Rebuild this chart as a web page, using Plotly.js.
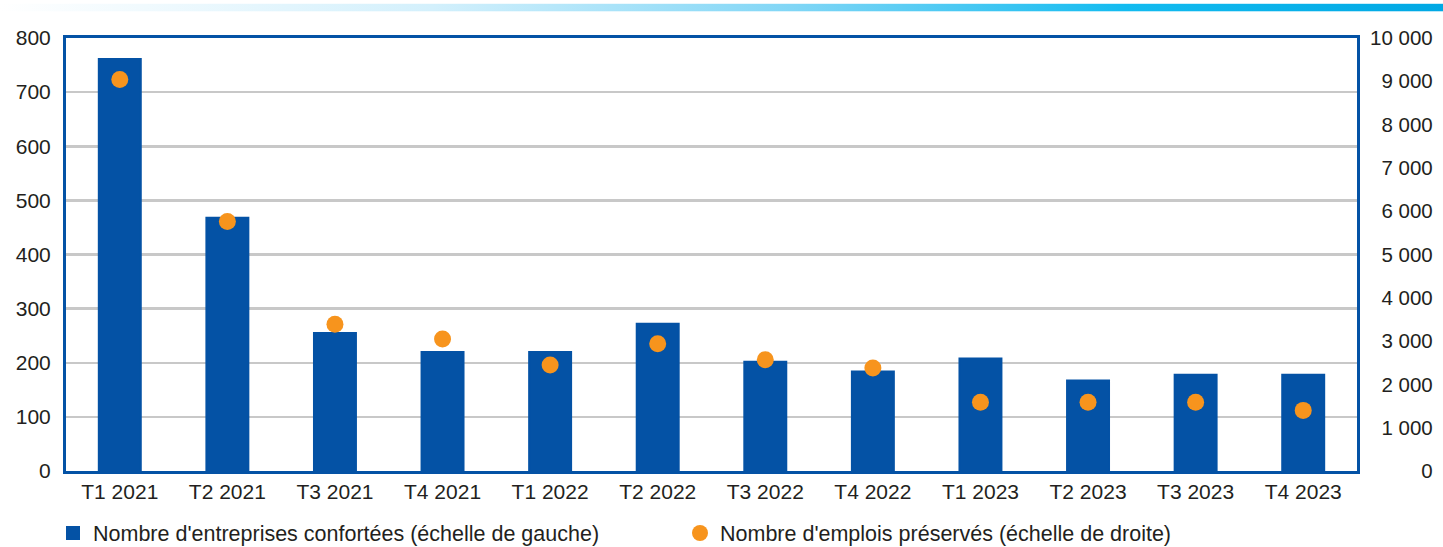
<!DOCTYPE html>
<html>
<head>
<meta charset="utf-8">
<script src="https://cdn.plot.ly/plotly-3.0.1.min.js"></script>
<style>
  html, body { margin: 0; padding: 0; background: #fff; }
  #chart { width: 1443px; height: 547px; }
</style>
</head>
<body>
<div id="chart"></div>
<script>
// ---- Data ----
var categories = ['T1 2021', 'T2 2021', 'T3 2021', 'T4 2021',
                  'T1 2022', 'T2 2022', 'T3 2022', 'T4 2022',
                  'T1 2023', 'T2 2023', 'T3 2023', 'T4 2023'];
var entreprises = [761, 468, 255, 220, 220, 272, 202, 184, 208, 167, 178, 178];
var emplois = [9040, 5760, 3390, 3050, 2450, 2940, 2570, 2380, 1590, 1590, 1590, 1400];
var leftTicks = [0, 100, 200, 300, 400, 500, 600, 700, 800];
var rightTicks = [0, 1000, 2000, 3000, 4000, 5000, 6000, 7000, 8000, 9000, 10000];
var seriesNames = ["Nombre d'entreprises confortées (échelle de gauche)",
                   "Nombre d'emplois préservés (échelle de droite)"];

// right-aligned right-axis labels with space thousands separator
function fmtThousands(v) {
  var s = String(v);
  var out = '';
  while (s.length > 3) { out = '\u00A0' + s.slice(-3) + out; s = s.slice(0, -3); }
  return s + out;
}
var maxLabel = fmtThousands(Math.max.apply(null, rightTicks));
var rightText = rightTicks.map(function (v) {
  var t = fmtThousands(v);
  var pad = '';
  for (var i = t.length; i < maxLabel.length; i++) {
    var ch = maxLabel.charAt(maxLabel.length - 1 - i);
    pad += (ch === '\u00A0') ? '\u00A0' : '\u2007';
  }
  return pad + t;
});

var FONT = 'Liberation Sans, Arial, sans-serif';
var BLUE = '#0452a5';
var ORANGE = '#f7941d';
var TXT = '#231f20';

var gradSvg = '<svg xmlns="http://www.w3.org/2000/svg" width="1443" height="8" preserveAspectRatio="none">' +
  '<defs><linearGradient id="g" x1="0" y1="0" x2="1" y2="0">' +
  '<stop offset="0" stop-color="#ffffff"/>' +
  '<stop offset="0.3" stop-color="#d3f0fc"/>' +
  '<stop offset="0.55" stop-color="#80d6f6"/>' +
  '<stop offset="0.78" stop-color="#12bbf0"/>' +
  '<stop offset="1" stop-color="#00a8e4"/>' +
  '</linearGradient></defs><rect x="0" y="0" width="1443" height="8" fill="url(#g)"/></svg>';

var plotL = 66, plotR = 1357, plotT = 37.5, plotB = 471.5;
var pw = plotR - plotL, ph = plotB - plotT;

var traces = [
  {
    type: 'bar',
    x: categories,
    y: entreprises,
    name: seriesNames[0],
    width: 0.39,
    marker: { color: BLUE, line: { color: BLUE, width: 2 } },
    yaxis: 'y',
    hoverinfo: 'x+y'
  },
  {
    type: 'scatter',
    mode: 'markers',
    x: categories,
    y: emplois,
    name: seriesNames[1],
    marker: { color: ORANGE, size: 17 },
    yaxis: 'y2',
    hoverinfo: 'x+y'
  }
];

var layout = {
  width: 1443,
  height: 547,
  margin: { l: plotL, r: 1443 - plotR, t: plotT, b: 547 - plotB, pad: 0, autoexpand: false },
  paper_bgcolor: '#ffffff',
  plot_bgcolor: '#ffffff',
  font: { family: FONT, size: 21, color: TXT },
  showlegend: true,
  legend: {
    orientation: 'h',
    xref: 'container',
    yref: 'container',
    x: 53 / 1443,
    xanchor: 'left',
    y: (547 - 533) / 547,
    yanchor: 'middle',
    font: { family: FONT, size: 21.5, color: TXT },
    entrywidth: 582,
    entrywidthmode: 'pixels',
    bgcolor: 'rgba(0,0,0,0)'
  },
  xaxis: {
    type: 'category',
    range: [-0.5, categories.length - 0.5],
    automargin: false,
    showline: true,
    linecolor: BLUE,
    linewidth: 3,
    mirror: true,
    showgrid: false,
    zeroline: false,
    ticks: '',
    ticklabelstandoff: 0,
    tickfont: { family: FONT, size: 21, color: TXT },
    fixedrange: true
  },
  yaxis: {
    range: [0, 800],
    tickvals: leftTicks,
    automargin: false,
    showline: true,
    linecolor: BLUE,
    linewidth: 3,
    mirror: true,
    showgrid: true,
    gridcolor: '#c8c8c8',
    gridwidth: 2.5,
    zeroline: false,
    ticks: '',
    ticklabelstandoff: 8,
    tickfont: { family: FONT, size: 21, color: TXT },
    fixedrange: true
  },
  yaxis2: {
    overlaying: 'y',
    side: 'right',
    range: [0, 10000],
    tickvals: rightTicks,
    ticktext: rightText,
    automargin: false,
    showline: false,
    showgrid: false,
    zeroline: false,
    ticks: '',
    ticklabelstandoff: 12,
    tickfont: { family: FONT, size: 20.5, color: TXT },
    fixedrange: true
  },
  images: [{
    source: 'data:image/svg+xml;charset=utf-8,' + encodeURIComponent(gradSvg),
    xref: 'paper', yref: 'paper',
    x: -plotL / pw, y: 1 + (plotT - 3) / ph,
    sizex: 1443 / pw, sizey: 8 / ph,
    xanchor: 'left', yanchor: 'top',
    sizing: 'stretch',
    layer: 'below'
  }]
};

Plotly.newPlot('chart', traces, layout, { displayModeBar: false, staticPlot: true });
</script>
</body>
</html>
